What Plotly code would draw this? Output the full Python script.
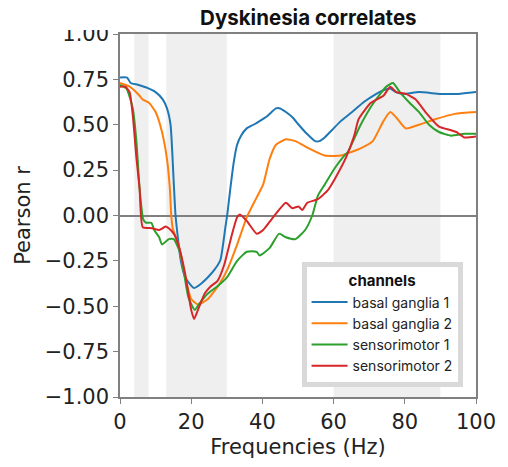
import plotly.graph_objects as go

# Frequency bands highlighted in the background (Hz)
bands = [(4, 8), (13, 30), (60, 90)]

# basal ganglia 1
f_bg1 = [0, 2, 3, 5, 8, 10, 12, 13.2, 14.2, 15.1, 15.6, 17, 18.3, 19.7, 20.8, 22.5, 24.7,
         26.5, 28.2, 29.6, 30.1, 31, 32, 32.9, 34, 35.6, 37.5, 39.2, 41.5, 43.8, 45, 46.6,
         48.5, 50.2, 52.5, 54.8, 56, 57.5, 60, 62, 65.2, 68.5, 72, 74, 75.9, 77.5, 79.5,
         84, 90, 95, 100]
r_bg1 = [0.76, 0.76, 0.73, 0.72, 0.70, 0.68, 0.64, 0.59, 0.50, 0.18, 0.0, -0.24, -0.34,
         -0.38, -0.40, -0.38, -0.34, -0.30, -0.245, -0.065, 0.0, 0.15, 0.30, 0.39, 0.44,
         0.48, 0.50, 0.52, 0.55, 0.59, 0.59, 0.57, 0.54, 0.50, 0.45, 0.41, 0.41, 0.43, 0.48,
         0.52, 0.57, 0.625, 0.67, 0.69, 0.70, 0.68, 0.67, 0.68, 0.67, 0.67, 0.68]

# basal ganglia 2
f_bg2 = [0, 2.7, 5.5, 6.3, 8.2, 10, 11.8, 13.2, 14.0, 14.4, 14.8, 16.4, 18.3, 20, 21.9,
         24.7, 28.2, 30.1, 32.9, 35.6, 38.4, 40.2, 42, 43.8, 46.6, 49.3, 53, 57.5, 62, 65,
         67.6, 71, 74, 75.9, 77.6, 80.3, 84, 88.5, 94, 100]
r_bg2 = [0.73, 0.71, 0.66, 0.64, 0.62, 0.57, 0.46, 0.31, 0.15, 0.0, -0.07, -0.16, -0.34,
         -0.46, -0.49, -0.46, -0.37, -0.30, -0.16, -0.01, 0.10, 0.17, 0.31, 0.39, 0.42, 0.41,
         0.37, 0.33, 0.33, 0.35, 0.37, 0.41, 0.52, 0.57, 0.54, 0.48, 0.50, 0.53, 0.56, 0.57]

# sensorimotor 1
f_sm1 = [0, 1.8, 3.6, 4.6, 5.5, 6.5, 7.3, 8.8, 9.6, 11, 11.8, 13.7, 15.1, 17, 19.2, 21,
         22.5, 24.7, 27.4, 30.1, 32.9, 35.6, 38.4, 39.2, 42, 44.7, 46.6, 49.3, 52, 54, 55.6,
         57.5, 60.3, 63, 64, 67.6, 71.2, 74.8, 76.7, 78.6, 81.4, 84, 86.8, 89.6, 93, 96.7,
         100]
r_sm1 = [0.72, 0.70, 0.59, 0.41, 0.15, -0.02, -0.04, -0.04, -0.08, -0.12, -0.16, -0.13,
         -0.13, -0.21, -0.45, -0.52, -0.48, -0.43, -0.39, -0.34, -0.25, -0.20, -0.20, -0.22,
         -0.18, -0.10, -0.12, -0.13, -0.08, 0.0, 0.11, 0.17, 0.26, 0.33, 0.35, 0.50, 0.62,
         0.71, 0.73, 0.68, 0.62, 0.57, 0.50, 0.46, 0.44, 0.45, 0.45]

# sensorimotor 2
f_sm2 = [0, 1.5, 2.7, 3.6, 4.6, 5.5, 6.4, 9, 11, 12, 12.8, 13.7, 15.1, 16.4, 18.3, 20,
         20.8, 21.9, 23.8, 25.5, 27.4, 29.3, 31.5, 32.9, 33.7, 35.6, 38.4, 40.2, 43, 46.6,
         48.4, 50.2, 51.2, 52.6, 55.6, 58.4, 60.3, 63.5, 65.8, 67, 70.4, 74, 75.9, 77.6,
         80.3, 83, 85.8, 89.6, 93, 94.5, 96.7, 100]
r_sm2 = [0.71, 0.71, 0.68, 0.55, 0.32, 0.15, -0.065, -0.07, -0.08, -0.07, -0.06, -0.07,
         -0.10, -0.16, -0.32, -0.52, -0.57, -0.52, -0.43, -0.39, -0.36, -0.27, -0.10,
         -0.01, 0.005, -0.03, -0.10, -0.08, -0.01, 0.07, 0.04, 0.05, 0.03, 0.07, 0.09, 0.14,
         0.20, 0.32, 0.44, 0.53, 0.62, 0.66, 0.71, 0.68, 0.67, 0.64, 0.57, 0.49, 0.47, 0.46,
         0.43, 0.435]

channel_names = ["basal ganglia 1", "basal ganglia 2", "sensorimotor 1", "sensorimotor 2"]
channel_colors = ["#1f77b4", "#ff7f0e", "#2ca02c", "#d62728"]
series = [(f_bg1, r_bg1), (f_bg2, r_bg2), (f_sm1, r_sm1), (f_sm2, r_sm2)]

y_ticks = [-1.0, -0.75, -0.5, -0.25, 0.0, 0.25, 0.5, 0.75, 1.0]
x_ticks = [0, 20, 40, 60, 80, 100]

tick_font = dict(family="DejaVu Sans", size=21, color="#222222")

fig = go.Figure()

for (fx, ry), name, color in zip(series, channel_names, channel_colors):
    fig.add_trace(go.Scatter(
        x=fx, y=ry, mode="lines", name=name,
        line=dict(color=color, width=2, shape="spline", smoothing=0.5),
    ))

for lo, hi in bands:
    fig.add_shape(type="rect", xref="x", yref="paper", x0=lo, x1=hi, y0=0, y1=1,
                  fillcolor="#efefef", line=dict(width=0), layer="below")

# the header strip trims the top of the uppermost tick label
fig.add_shape(type="rect", xref="paper", yref="paper", x0=-0.33, x1=-0.025,
              y0=1.011, y1=1.1, fillcolor="white", line=dict(width=0), layer="above")

fig.update_layout(
    width=508, height=467,
    margin=dict(l=120, r=23, t=34, b=65),
    paper_bgcolor="white", plot_bgcolor="white",
    title=dict(text="<b>Dyskinesia correlates</b>", x=0.607, xanchor="center",
               y=0.962, yanchor="middle",
               font=dict(family="Inter", size=20.5, color="#111111")),
    showlegend=True,
    legend=dict(
        x=0.51, y=0.372, xanchor="left", yanchor="top",
        bgcolor="white", bordercolor="#d9d9d9", borderwidth=5,
        font=dict(family="Inter", size=14, color="#222222"),
        title=dict(text="<b>channels</b>", side="top center",
                   font=dict(family="Inter", size=15, color="#111111")),
        itemwidth=36, tracegroupgap=0,
    ),
    xaxis=dict(
        range=[0, 100], tickvals=x_ticks, ticks="outside", ticklen=5,
        tickcolor="#808080", showline=True, linecolor="#808080", linewidth=1.5,
        mirror=True, showgrid=False, zeroline=False, tickfont=tick_font,
        title=dict(text="Frequencies (Hz)", standoff=6,
                   font=dict(family="DejaVu Sans", size=21, color="#222222")),
    ),
    yaxis=dict(
        range=[-1, 1], tickvals=y_ticks, tickformat=".2f", ticks="outside", ticklen=5,
        tickcolor="#808080", showline=True, linecolor="#808080", linewidth=1.5,
        mirror=True, showgrid=False, zeroline=True, zerolinecolor="#808080",
        zerolinewidth=1.5, tickfont=tick_font,
        title=dict(text="Pearson r", standoff=8,
                   font=dict(family="DejaVu Sans", size=21, color="#222222")),
    ),
)

fig.write_html("out.html")
